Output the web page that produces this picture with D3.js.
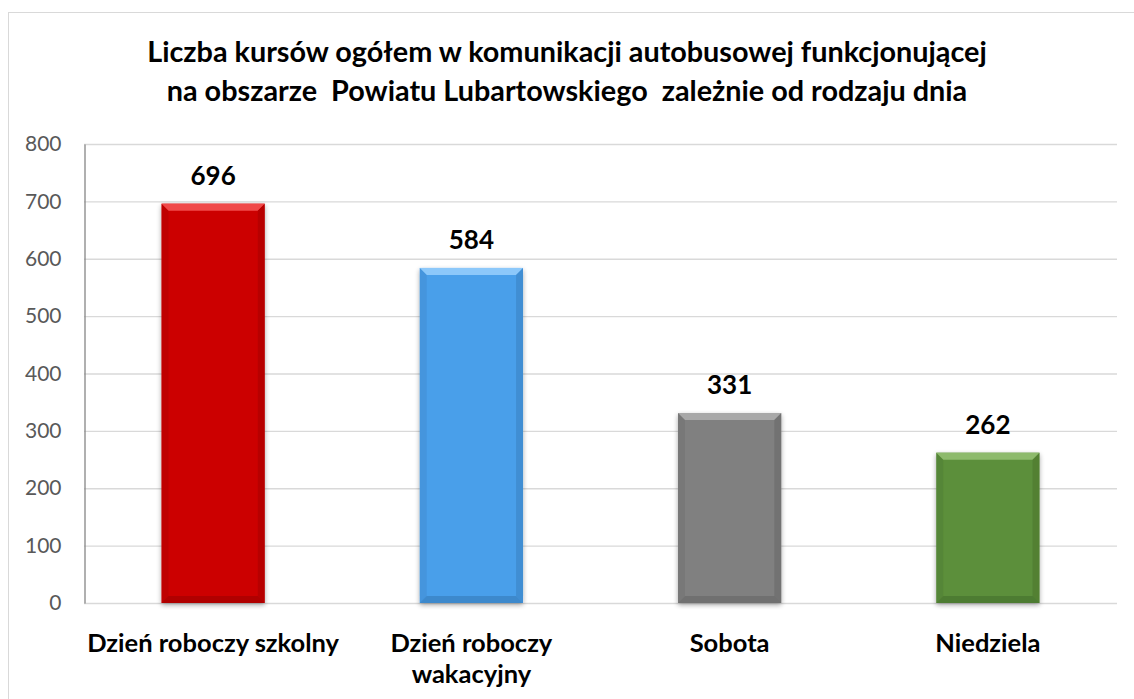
<!DOCTYPE html>
<html><head><meta charset="utf-8">
<script src="https://cdn.jsdelivr.net/npm/d3@7"></script>
<style>body{margin:0;background:#fff}svg{display:block}</style>
</head><body>
<script>
const categories = [["Dzień roboczy szkolny"], ["Dzień roboczy", "wakacyjny"], ["Sobota"], ["Niedziela"]];
const values = [696, 584, 331, 262];
const colors = ["#CC0000", "#4A9FEA", "#808080", "#5C8F3B"];
const lightColors = ["#F04A4A", "#8CC8FA", "#A8A8A8", "#8DBA6C"];
const darkColors = ["#8E0000", "#2E6FA8", "#5A5A5A", "#3E6526"];
const yTicks = [0, 100, 200, 300, 400, 500, 600, 700, 800];
const titleLines = ["Liczba kursów ogółem w komunikacji autobusowej funkcjonującej", "na obszarze  Powiatu Lubartowskiego  zależnie od rodzaju dnia"];

const W = 1134, H = 699;
const font = "Lato, 'Open Sans', sans-serif";
const svg = d3.select("body").append("svg").attr("width", W).attr("height", H);
svg.append("rect").attr("x", 8.5).attr("y", 12.5).attr("width", W).attr("height", H).attr("fill", "none").attr("stroke", "#D9D9D9");

const m = {left: 84, right: 1117, top: 144, bottom: 603};
const x = d3.scaleBand().domain(d3.range(categories.length)).range([m.left, m.right]).paddingInner(0.6).paddingOuter(0.3);
const y = d3.scaleLinear().domain([0, 800]).range([m.bottom, m.top]);

const defs = svg.append("defs");
const f = defs.append("filter").attr("id", "sh").attr("x", "-20%").attr("y", "-20%").attr("width", "140%").attr("height", "140%");
f.append("feGaussianBlur").attr("in", "SourceAlpha").attr("stdDeviation", 2.5);
f.append("feOffset").attr("dx", 0).attr("dy", 2).attr("result", "b");
f.append("feComponentTransfer").append("feFuncA").attr("type", "linear").attr("slope", 0.35);
const fm = f.append("feMerge"); fm.append("feMergeNode"); fm.append("feMergeNode").attr("in", "SourceGraphic");

// gridlines
svg.append("g").selectAll("line").data(yTicks.filter(d => d > 0)).join("line")
  .attr("x1", m.left).attr("x2", m.right).attr("y1", d => y(d) + 0.5).attr("y2", d => y(d) + 0.5)
  .attr("stroke", "#D9D9D9").attr("stroke-width", 1.3);
svg.append("line").attr("x1", m.left).attr("x2", m.right).attr("y1", y(0) + 0.5).attr("y2", y(0) + 0.5).attr("stroke", "#D9D9D9").attr("stroke-width", 1.3);

// y axis
const ya = d3.axisLeft(y).tickValues(yTicks).tickSize(0).tickPadding(23);
const yg = svg.append("g").attr("transform", `translate(${m.left + 0.5},0)`).call(ya);
yg.select(".domain").attr("stroke", "#868686").attr("stroke-width", 1.3);
yg.selectAll("text").attr("font-family", font).attr("font-size", 21).attr("fill", "#595959");

// bars
const bw = x.bandwidth(), bev = 7;
const bars = svg.append("g").selectAll("g").data(values).join("g").attr("filter", "url(#sh)");
bars.append("rect").attr("x", (d, i) => x(i)).attr("y", d => y(d)).attr("width", bw).attr("height", d => y(0) - y(d)).attr("fill", (d, i) => colors[i]);
bars.append("path").attr("d", (d, i) => { const x0 = x(i), y0 = y(d); return `M${x0},${y0}H${x0 + bw}L${x0 + bw - bev},${y0 + bev}H${x0 + bev}Z`; }).attr("fill", (d, i) => lightColors[i]);
bars.append("path").attr("d", (d, i) => { const x0 = x(i) + bw, y0 = y(d), y1 = y(0); return `M${x0},${y0}L${x0 - bev},${y0 + bev}V${y1 - bev}L${x0},${y1}Z`; }).attr("fill", (d, i) => darkColors[i]).attr("opacity", 0.35);
bars.append("path").attr("d", (d, i) => { const x0 = x(i), y0 = y(d), y1 = y(0); return `M${x0},${y0}L${x0 + bev},${y0 + bev}V${y1 - bev}L${x0},${y1}Z`; }).attr("fill", (d, i) => darkColors[i]).attr("opacity", 0.2);
bars.append("path").attr("d", (d, i) => { const x0 = x(i), y1 = y(0); return `M${x0},${y1}L${x0 + bev},${y1 - bev}H${x0 + bw - bev}L${x0 + bw},${y1}Z`; }).attr("fill", (d, i) => darkColors[i]).attr("opacity", 0.45);

// value labels
svg.append("g").selectAll("text").data(values).join("text")
  .attr("x", (d, i) => x(i) + bw / 2).attr("y", d => y(d) - 19)
  .attr("text-anchor", "middle").attr("font-family", font).attr("font-weight", "bold").attr("font-size", 26).attr("fill", "#000")
  .text(d => d);

// category labels
const xa = d3.axisBottom(x).tickSize(0).tickFormat("");
const xg = svg.append("g").attr("transform", `translate(0,${y(0)})`).call(xa);
xg.select(".domain").remove();
xg.selectAll(".tick").each(function(d) {
  const t = d3.select(this).append("text").attr("text-anchor", "middle").attr("font-family", font).attr("font-weight", "bold").attr("font-size", 25.5).attr("fill", "#000");
  categories[d].forEach((line, k) => t.append("tspan").attr("x", 0).attr("y", 49 + k * 31).text(line));
});

// title
const tt = svg.append("text").attr("text-anchor", "middle").attr("font-family", font).attr("font-weight", "bold").attr("font-size", 28.8).attr("fill", "#000");
titleLines.forEach((l, k) => tt.append("tspan").attr("x", 567).attr("y", 62 + k * 39).attr("xml:space", "preserve").style("white-space", "pre").text(l));
</script>
</body></html>
